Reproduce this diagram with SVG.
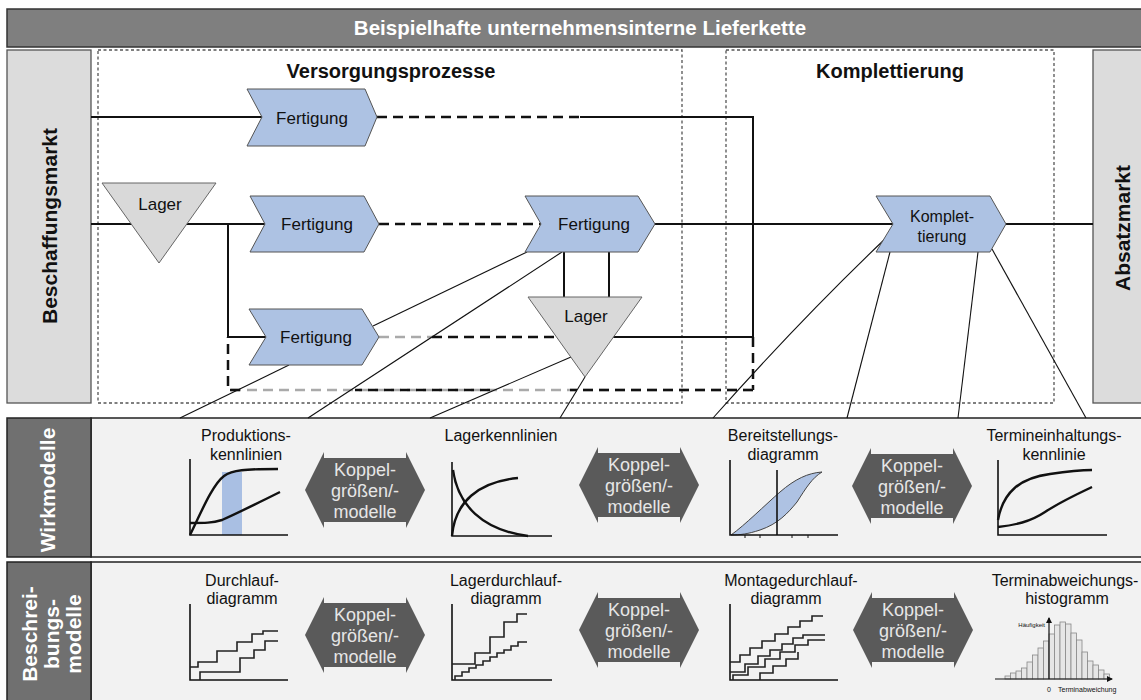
<svg xmlns="http://www.w3.org/2000/svg" width="1141" height="700" viewBox="0 0 1141 700">
<style>
.t{font-family:"Liberation Sans",Arial,Helvetica,sans-serif}
.b{font-weight:bold}
.box{fill:none;stroke:#555;stroke-width:1.3;stroke-dasharray:3 2.5}
.chev{fill:#adc2e3;stroke:#555;stroke-width:1}
.tri{fill:#d9d9d9;stroke:#666;stroke-width:1}
.ln{stroke:#111;stroke-width:2;fill:none}
.dl{stroke:#111;stroke-width:2.5;stroke-dasharray:10 6;fill:none}
.dg{stroke:#aaa;stroke-width:2.5;stroke-dasharray:10 6;fill:none}
.thin{stroke:#111;stroke-width:1.1;fill:none}
.ax{stroke:#111;stroke-width:1.6;fill:none}
.cv{stroke:#111;stroke-width:2.4;fill:none}
.st{stroke:#222;stroke-width:1.6;fill:none}
.kop{fill:#5a5a5a}
.kt{fill:#e6e6e6;font-size:18px;text-anchor:middle}
.nt{font-size:17px;text-anchor:middle;fill:#111}
.ct{font-size:16px;text-anchor:middle;fill:#111}
.bar{fill:#e6e6e6;stroke:#888;stroke-width:0.8}
</style>
<defs>
<path id="koppel" d="M-60,0 L-41,-38 L-41,-32 L41,-32 L41,-38 L60,0 L41,38 L41,32 L-41,32 L-41,38 Z"/>
<marker id="ah" viewBox="0 0 6 6" refX="5" refY="3" markerWidth="5" markerHeight="5" orient="auto"><path d="M0,0 L6,3 L0,6 Z" fill="#111"/></marker>
</defs>
<rect width="1141" height="700" fill="#fff"/>

<!-- title bar -->
<g id="title">
<rect x="7" y="9" width="1140" height="38" fill="#7f7f7f" stroke="#333" stroke-width="1.5"/>
<text class="t b" x="580" y="35" font-size="20.5" fill="#fff" text-anchor="middle">Beispielhafte unternehmensinterne Lieferkette</text>
</g>

<!-- markets -->
<g id="beschaffungsmarkt">
<rect x="7" y="50" width="84" height="353" fill="#dcdcdc" stroke="#555" stroke-width="1.3"/>
<text class="t b" transform="translate(57,226) rotate(-90)" font-size="21" text-anchor="middle" fill="#111">Beschaffungsmarkt</text>
</g>
<g id="absatzmarkt">
<rect x="1093" y="50" width="54" height="353" fill="#dcdcdc" stroke="#555" stroke-width="1.3"/>
<text class="t b" transform="translate(1130,228) rotate(-90)" font-size="21" text-anchor="middle" fill="#111">Absatzmarkt</text>
</g>

<!-- phase boxes -->
<g id="versorgungsprozesse">
<rect class="box" x="98" y="50" width="584" height="353"/>
<text class="t b" x="391" y="78" font-size="20" text-anchor="middle" fill="#111">Versorgungsprozesse</text>
</g>
<g id="komplettierung-bereich">
<rect class="box" x="726" y="50" width="328" height="353"/>
<text class="t b" x="890" y="78" font-size="20" text-anchor="middle" fill="#111">Komplettierung</text>
</g>

<!-- bands -->
<g id="wirkmodelle">
<rect x="91" y="418" width="1056" height="139" fill="#f2f2f2" stroke="#222" stroke-width="1.5"/>
<rect x="7" y="418" width="84" height="139" fill="#707070" stroke="#222" stroke-width="1.5"/>
<text class="t b" transform="translate(55,490) rotate(-90)" font-size="21" text-anchor="middle" fill="#fff">Wirkmodelle</text>
</g>
<g id="beschreibungsmodelle">
<rect x="91" y="562" width="1056" height="145" fill="#f2f2f2" stroke="#222" stroke-width="1.5"/>
<rect x="7" y="562" width="84" height="145" fill="#707070" stroke="#222" stroke-width="1.5"/>
<text class="t b" transform="translate(37,634) rotate(-90)" font-size="21" text-anchor="middle" fill="#fff">Beschrei-</text>
<text class="t b" transform="translate(59,634) rotate(-90)" font-size="21" text-anchor="middle" fill="#fff">bungs-</text>
<text class="t b" transform="translate(81,634) rotate(-90)" font-size="21" text-anchor="middle" fill="#fff">modelle</text>
</g>

<!-- connectors -->
<g id="connectors">
<path class="ln" d="M91,117 H264"/>
<path class="dl" d="M377,117 H580"/>
<path class="ln" d="M580,117 H753 V337"/>
<path class="ln" d="M613,337 H753"/>
<path class="dl" d="M753,337 V390"/>
<path class="dg" d="M753,390 H228"/>
<path class="dl" d="M753,390 H570 M490,390 H355 M240,390 H228 V337"/>
<path class="ln" d="M91,224 H266"/>
<path class="ln" d="M228,224 V337 H267"/>
<path class="dl" d="M379,224 H541"/>
<path class="ln" d="M655,224 H893"/>
<path class="ln" d="M1006,224 H1093"/>
<path class="dg" d="M379,337 H432"/>
<path class="dl" d="M432,337 H557"/>
<path class="ln" d="M564,252 V297 M609,252 V297"/>
<path class="thin" d="M289,365 L180,418"/>
<path class="thin" d="M527,252 L373,326"/>
<path class="thin" d="M562,252 L308,418"/>
<path class="thin" d="M571,357 L430,418"/>
<path class="thin" d="M585,377 L560,418"/>
<path class="thin" d="M886,238 Q800,320 713,418"/>
<path class="thin" d="M890,252 L847,418"/>
<path class="thin" d="M978,252 L958,418"/>
<path class="thin" d="M992,249 L1086,418"/>
</g>

<!-- process nodes -->
<g id="fertigung-oben">
<path class="chev" d="M247,89 H365 L377,117 L365,146 H247 L262,117 Z"/>
<text class="t nt" x="312" y="124">Fertigung</text>
</g>
<g id="lager-links">
<path class="tri" d="M102,183 H216 L159,263 Z"/>
<text class="t nt" x="160" y="210">Lager</text>
</g>
<g id="fertigung-mitte-1">
<path class="chev" d="M250,196 H364 L379,224 L364,252 H250 L265,224 Z"/>
<text class="t nt" x="317" y="230">Fertigung</text>
</g>
<g id="fertigung-mitte-2">
<path class="chev" d="M525,196 H638 L655,224 L638,252 H525 L541,224 Z"/>
<text class="t nt" x="594" y="230">Fertigung</text>
</g>
<g id="fertigung-unten">
<path class="chev" d="M249,309 H362 L379,337 L362,365 H249 L266,337 Z"/>
<text class="t nt" x="316" y="343">Fertigung</text>
</g>
<g id="lager-mitte">
<path class="tri" d="M528,297 H642 L585,377 Z"/>
<text class="t nt" x="586" y="322">Lager</text>
</g>
<g id="komplettierung">
<path class="chev" d="M876,196 H990 L1006,224 L990,252 H876 L893,224 Z"/>
<text class="t" x="942" y="222" font-size="16" text-anchor="middle" fill="#111">Komplet-</text>
<text class="t" x="942" y="242" font-size="16" text-anchor="middle" fill="#111">tierung</text>
</g>

<!-- Wirkmodelle content -->
<g id="produktionskennlinien">
<text class="t ct" x="246" y="441">Produktions-</text>
<text class="t ct" x="246" y="460">kennlinien</text>
<rect x="222" y="472" width="20" height="63" fill="#a9bfe3"/>
<path class="ax" d="M190,459 V535 H288"/>
<path class="cv" d="M190,535 C200,515 212,485 224,476 C232,470 245,469 278,469"/>
<path class="cv" d="M190,523 C205,523 212,523 222,520 C240,512 260,502 280,492"/>
</g>
<g id="lagerkennlinien">
<text class="t ct" x="501" y="441">Lagerkennlinien</text>
<path class="ax" d="M452,462 V536 H552"/>
<path class="cv" d="M452,536 C455,502 478,482 518,478"/>
<path class="cv" d="M453,470 C458,505 482,530 528,536"/>
</g>
<g id="bereitstellungsdiagramm">
<text class="t ct" x="783" y="441">Bereitstellungs-</text>
<text class="t ct" x="783" y="460">diagramm</text>
<path d="M731,535 C745,525 765,505 780,492 C795,479 808,473 822,472 C812,478 806,488 797,502 C788,513 778,524 760,530 C748,534 740,535 731,535 Z" fill="#aec2e3" stroke="#444" stroke-width="1"/>
<path class="ax" d="M730,460 V535 H838"/>
<path class="ax" d="M777,470 V535"/>
<path stroke="#111" stroke-width="1" d="M745,535 v3 M760,535 v3 M792,535 v3 M808,535 v3"/>
</g>
<g id="termineinhaltungskennlinie">
<text class="t ct" x="1054" y="441">Termineinhaltungs-</text>
<text class="t ct" x="1054" y="460">kennlinie</text>
<path class="ax" d="M998,460 V535 H1107"/>
<path class="cv" d="M998,520 C1003,492 1020,478 1050,474 C1070,471 1085,470 1092,470"/>
<path class="cv" d="M998,527 C1015,525 1030,522 1045,512 C1060,502 1075,495 1092,487"/>
</g>
<g id="koppel-w1"><use href="#koppel" class="kop" transform="translate(365,490)"/>
<text class="t kt" x="365" y="476">Koppel-</text><text class="t kt" x="365" y="497">größen/-</text><text class="t kt" x="365" y="518">modelle</text></g>
<g id="koppel-w2"><use href="#koppel" class="kop" transform="translate(639,485)"/>
<text class="t kt" x="639" y="471">Koppel-</text><text class="t kt" x="639" y="492">größen/-</text><text class="t kt" x="639" y="513">modelle</text></g>
<g id="koppel-w3"><use href="#koppel" class="kop" transform="translate(912,486)"/>
<text class="t kt" x="912" y="472">Koppel-</text><text class="t kt" x="912" y="493">größen/-</text><text class="t kt" x="912" y="514">modelle</text></g>

<!-- Beschreibungsmodelle content -->
<g id="durchlaufdiagramm">
<text class="t ct" x="242" y="586">Durchlauf-</text>
<text class="t ct" x="242" y="604">diagramm</text>
<path class="ax" d="M190,604 V680 H288"/>
<path class="st" d="M190,667 H198 V662 H217 V651 H237 V642 H252 V634 H263 V631 H278"/>
<path class="st" d="M200,680 V672 H240 V658 H254 V650 H265 V641 H278"/>
</g>
<g id="lagerdurchlaufdiagramm">
<text class="t ct" x="506" y="586">Lagerdurchlauf-</text>
<text class="t ct" x="506" y="604">diagramm</text>
<path class="ax" d="M452,604 V680 H552"/>
<path class="st" d="M452,664 H475 V653 H490 V637 H504 V622 H517 V614 H527"/>
<path class="st" d="M455,680 V676 H462 V672 H469 V668 H476 V665 H483 V661 H490 V657 H497 V653 H504 V650 H511 V646 H518 V642 H527"/>
</g>
<g id="montagedurchlaufdiagramm">
<text class="t ct" x="791" y="586">Montagedurchlauf-</text>
<text class="t ct" x="786" y="604">diagramm</text>
<path class="ax" d="M730,604 V680 H838"/>
<path class="st" d="M730,662 H740 V655 H750 V648 H762 V641 H775 V634 H788 V627 H800 V621 H812 V616 H823"/>
<path class="st" d="M730,672 H745 V664 H758 V656 H770 V650 H782 V644 H793 V638 H803 V635 H825"/>
<path class="st" d="M733,680 V675 H748 V667 H765 V659 H780 V652 H795 V645 H808 V640 H825"/>
<path class="st" d="M760,680 V673 H773 V666 H786 V659 H798 V652"/>
</g>
<g id="terminabweichungshistogramm">
<text class="t ct" x="1065" y="586">Terminabweichungs-</text>
<text class="t ct" x="1067" y="604">histogramm</text>
<g class="bar">
<rect x="1005" y="676" width="5.5" height="3"/>
<rect x="1010.5" y="673" width="5.5" height="6"/>
<rect x="1016" y="671" width="5.5" height="8"/>
<rect x="1021.5" y="668" width="5.5" height="11"/>
<rect x="1027" y="662" width="5.5" height="17"/>
<rect x="1032.5" y="655" width="5.5" height="24"/>
<rect x="1038" y="648" width="5.5" height="31"/>
<rect x="1043.5" y="641" width="5.5" height="38"/>
<rect x="1049" y="634" width="5.5" height="45"/>
<rect x="1054.5" y="625" width="5.5" height="54"/>
<rect x="1060" y="622" width="5.5" height="57"/>
<rect x="1065.5" y="624" width="5.5" height="55"/>
<rect x="1071" y="633" width="5.5" height="46"/>
<rect x="1076.5" y="640" width="5.5" height="39"/>
<rect x="1082" y="652" width="5.5" height="27"/>
<rect x="1087.5" y="661" width="5.5" height="18"/>
<rect x="1093" y="665" width="5.5" height="14"/>
<rect x="1098.5" y="670" width="5.5" height="9"/>
<rect x="1104" y="674" width="5.5" height="5"/>
</g>
<path stroke="#111" stroke-width="1.2" d="M995,679 H1112" marker-end="url(#ah)"/>
<path stroke="#111" stroke-width="1.2" d="M1049,679 V618" marker-end="url(#ah)"/>
<text class="t" x="1045" y="627" font-size="6" text-anchor="end" fill="#111">Häufigkeit</text>
<text class="t" x="1049" y="692" font-size="7" text-anchor="middle" fill="#111">0</text>
<text class="t" x="1058" y="692" font-size="7" fill="#111">Terminabweichung</text>
</g>
<g id="koppel-b1"><use href="#koppel" class="kop" transform="translate(365,635)"/>
<text class="t kt" x="365" y="621">Koppel-</text><text class="t kt" x="365" y="642">größen/-</text><text class="t kt" x="365" y="663">modelle</text></g>
<g id="koppel-b2"><use href="#koppel" class="kop" transform="translate(639,630)"/>
<text class="t kt" x="639" y="616">Koppel-</text><text class="t kt" x="639" y="637">größen/-</text><text class="t kt" x="639" y="658">modelle</text></g>
<g id="koppel-b3"><use href="#koppel" class="kop" transform="translate(913,630)"/>
<text class="t kt" x="913" y="616">Koppel-</text><text class="t kt" x="913" y="637">größen/-</text><text class="t kt" x="913" y="658">modelle</text></g>
</svg>
